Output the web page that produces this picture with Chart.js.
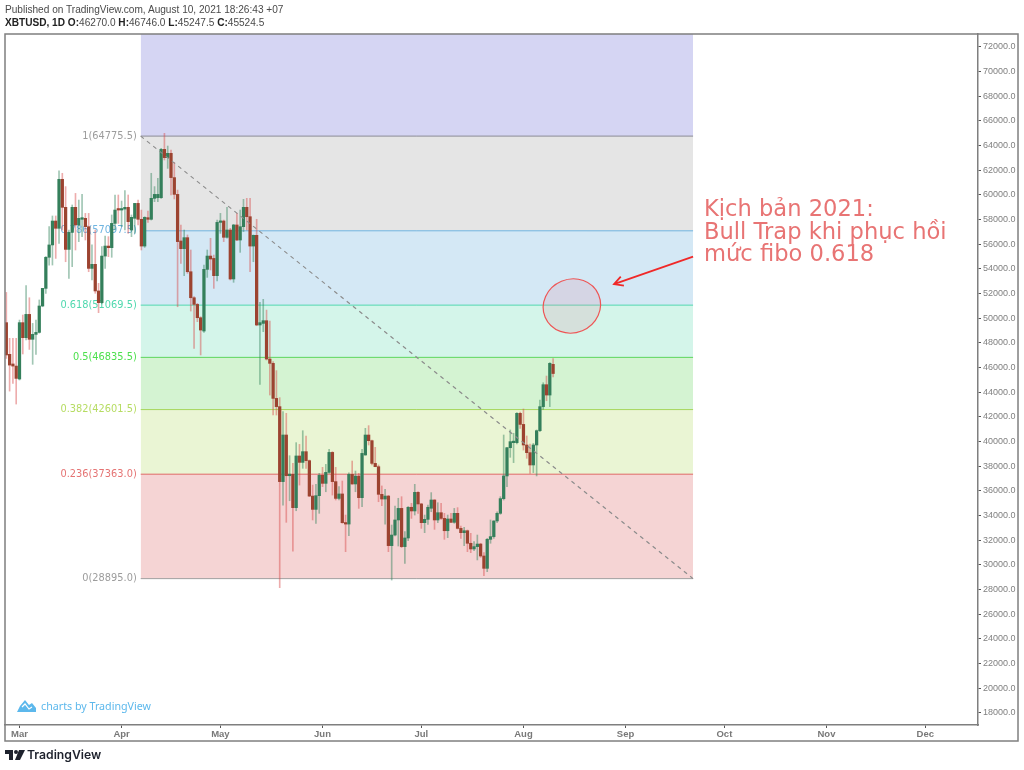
<!DOCTYPE html>
<html>
<head>
<meta charset="utf-8">
<script src="https://cdn.jsdelivr.net/npm/chart.js@4/dist/chart.umd.min.js"></script>
<style>
html, body { margin:0; padding:0; background:#fff; width:1024px; height:770px; overflow:hidden; }
#chart { position:absolute; left:0; top:0; }
.abs { position:absolute; white-space:nowrap; }
.head { font-family:"Liberation Sans"; font-size:10.1px; color:#4a4a4a; left:5px; }
.head b { color:#222; }
#note { left:704px; top:197px; font-family:"DejaVu Sans"; font-size:22.6px; line-height:22.6px; color:#e87474; }
#charts-by { left:41px; top:699px; font-family:"Noto Sans"; font-size:10.7px; color:#5cb8ec; }
#tv-logo { left:27px; top:747px; font-family:Inter; font-weight:600; font-size:12.2px; color:#1e222d; }
</style>
</head>
<body>
<canvas id="chart" width="1024" height="770"></canvas>
<div class="abs head" style="top:4px">Published on TradingView.com, August 10, 2021 18:26:43 +07</div>
<div class="abs head" style="top:17px"><b>XBTUSD, 1D</b> <b>O:</b>46270.0 <b>H:</b>46746.0 <b>L:</b>45247.5 <b>C:</b>45524.5</div>
<div class="abs" id="note">Kịch bản 2021:<br>Bull Trap khi phục hồi<br>mức fibo 0.618</div>
<svg class="abs" style="left:17px;top:700px" width="19" height="12" viewBox="0 0 19 12"><path d="M0 12 L3 6 L8 0 L12 5 L15 3 L19 8 L19 12 Z" fill="#5cb8ec"/><path d="M5 7 L8 4 L12 9 L15 7" stroke="#fff" stroke-width="1.2" fill="none"/></svg>
<div class="abs" id="charts-by">charts by TradingView</div>
<svg class="abs" style="left:5px;top:750px" width="20" height="11" viewBox="0 0 20 11"><path d="M0 0 H8 V10 H4 V4 H0 Z" fill="#1e222d"/><circle cx="11" cy="2" r="2" fill="#1e222d"/><path d="M14 0 H20 L15 10 H10 Z" fill="#1e222d"/></svg>
<div class="abs" id="tv-logo">TradingView</div>
<script>
// candles, one a day, first one is 4 days before Mar 1
const firstDay = -4;
const opens = [49650,47080,46300,46130,45080,49650,48430,50320,48300,48700,48860,51000,52430,54950,55950,57890,57300,61270,59000,55590,56970,59000,57570,58030,58110,57430,54050,54380,52220,51270,55050,55860,55730,57700,58840,58780,58860,59000,57160,58110,59320,58030,55860,58160,58030,59730,59780,59780,63700,63030,63380,61410,60050,56270,55650,56540,53780,51670,51130,50050,48970,53970,55050,54860,53460,57780,57890,56570,57160,53190,57570,56350,57430,59000,58240,55860,56730,49460,49590,49810,46700,46350,43510,42840,36760,40540,37240,37350,34650,38840,38320,39190,38460,35590,34510,35620,37270,36620,37510,39130,36760,35400,35760,33430,33320,37350,36570,37210,35460,38920,40540,40080,38240,37970,35730,35350,35590,31570,32430,33650,34590,31490,32190,34680,34380,35890,34950,33430,33700,34600,35270,33650,34240,33780,32780,33730,33460,34190,32970,32620,32780,31760,31300,31490,31700,30730,29730,32080,32300,33570,34190,35380,37220,39510,39920,39920,42300,41400,39730,39110,38110,39730,40890,42840,44620,43780,46270];
const highs = [52100,48380,48380,48380,49860,50270,52650,51670,49590,49860,51490,52430,55000,57430,58300,58300,61950,61760,60680,57160,59190,60130,59590,60050,58510,58510,55950,57160,52840,55810,56670,56620,58380,60000,60000,59510,60350,60000,58380,59320,59590,58780,58240,58700,61760,60680,61350,63780,65000,63970,63650,62650,60400,57570,57160,56760,55540,51760,51210,50130,54320,55540,56490,55130,57970,58510,57970,59000,57300,57620,58510,58780,59650,59730,59730,56760,58030,51300,51540,50670,49780,46490,45760,43570,42430,42300,38860,38240,39920,39780,40890,40460,38510,36480,36540,37430,37920,38160,39380,39190,37920,36350,36810,34050,37480,38430,37620,37430,39380,41080,41300,40130,39540,38110,36410,36140,35650,33240,34780,35410,35540,32700,34730,35000,36540,35950,35000,34050,34860,35870,35300,35050,35000,34190,34050,34190,34590,34650,33160,33050,32840,32570,31890,32430,31760,31000,32160,33650,33590,34320,35540,40540,39540,40950,40680,42350,42400,42650,40460,39810,39860,40950,43380,44780,45320,46410,46746];
const lows = [46750,44100,44730,43050,45000,47110,48240,47480,46270,47080,48800,50940,52020,54320,54320,54860,56080,57160,54590,53240,54190,55540,56220,56620,56350,53780,53110,52030,50460,51160,54050,55000,54950,57160,57700,57430,57160,56890,56620,56890,57570,55540,55750,57780,57970,59460,59460,59730,62840,62160,60000,59680,50940,54460,53460,53650,50590,47570,49730,47030,48860,53320,53920,52430,53030,56890,56220,56490,53110,52920,56300,55350,57030,57160,53780,54590,49400,44650,48920,46620,43780,42160,42160,28160,34860,33460,35210,31130,34400,36480,37840,37840,35540,33650,33380,34190,36350,35940,37430,35670,35270,35270,33380,31080,32380,36540,35940,34590,34730,38900,39730,38110,37970,35130,34810,33320,31080,28780,32350,31540,31410,30130,31970,33780,34050,34190,32970,32620,33300,34320,32890,33430,33700,32080,32220,33430,33380,32920,32160,31570,31080,31000,31160,30410,30620,29130,29460,31760,32160,33430,34110,35270,36350,38730,38300,39810,41080,39320,38650,37430,37490,37220,40810,42620,43320,42840,45247.5];
const closes = [47030,46210,46130,45130,49650,48430,50320,48300,48700,48860,51000,52430,54950,55950,57890,57300,61270,59000,55590,56970,59000,57570,58110,58160,57430,54050,54380,52220,51270,55050,55860,55730,57700,58780,58780,58860,59000,57840,58190,59320,58030,55860,58190,58030,59730,60050,60050,63700,63030,63380,61410,60050,56220,55650,56540,53780,51670,51130,50050,49050,53970,55050,54810,53460,57780,57840,56570,57160,53190,57570,56350,57430,59000,58240,55860,56730,49460,49650,49810,46700,46350,43510,42840,36760,40540,37240,37350,34650,38840,38320,39190,38460,35590,34510,35620,37270,36620,37510,39130,36760,35400,35760,33430,33320,37350,36570,37210,35460,39050,40540,40080,38240,37970,35730,35350,35590,31570,32430,33650,34590,31490,32190,34680,34380,35890,34950,33430,33700,34680,35270,33650,34240,33780,32780,33730,33460,34190,32970,32620,32780,31760,31300,31490,31700,30730,29730,32080,32300,33570,34190,35380,37220,39510,40000,40000,42300,41400,39730,39110,38110,39730,40890,42840,44620,43780,46350,45524.5];

const fibRatios = ['1','0.786','0.618','0.5','0.382','0.236','0'];
const fibPrices = [64775.5,57097.5,51069.5,46835.5,42601.5,37363,28895];
const fibLines = ['#8a8a96','#6fb4e0','#4fd8ae','#5cd65c','#a6d65c','#e06666','#a0a0a0'];
const fibText = ['#9c9c9c','#6fb4e0','#4fd8ae','#4de04d','#b6dc62','#e57373','#9c9c9c'];
const fibBands = ['#e5e5e5','#d4e8f5','#d4f5ea','#d4f3d2','#eaf5d4','#f5d4d4'];
const topBand = '#d5d5f3';
const fibStart = 36.8, fibEnd = 204.5;

const priceTicks = [18000,20000,22000,24000,26000,28000,30000,32000,34000,36000,38000,40000,42000,44000,46000,48000,50000,52000,54000,56000,58000,60000,62000,64000,66000,68000,70000,72000];
const monthLabels = ['Mar','Apr','May','Jun','Jul','Aug','Sep','Oct','Nov','Dec'];
const monthStarts = [0,31,61,92,122,153,184,214,245,275];

const upColor = '#347f5b', downColor = '#9c4330';
const upWick = 'rgba(47,128,88,0.45)', downWick = 'rgba(215,70,70,0.45)';

const days = opens.map((o, i) => i + firstDay);
const isUp = closes.map((c, i) => c >= opens[i]);

let levelSets = fibPrices.map((p, i) => ({
    type: 'line',
    data: [{x: fibStart, y: p}, {x: fibEnd, y: p}],
    borderColor: fibLines[i],
    borderWidth: 1,
    pointRadius: 0,
    backgroundColor: i === 0 ? topBand : fibBands[i - 1],
    fill: i === 0 ? {value: 90000} : {value: fibPrices[i - 1]},
    order: 3 + i
}));

// ellipse and arrow are placed in data units too
const bubble = {x: 167.7, y: 51000, rx: 29, ry: 26.8};
const arrow = {x0: 204.5, y0: 55000, x1: 180.5, y1: 52780};

const drawings = {
    id: 'drawings',
    beforeDatasetsDraw(chart) {
        let c = chart.ctx, xs = chart.scales.x, ys = chart.scales.y;
        c.save();
        c.font = '9.8px "DejaVu Sans"';
        c.textAlign = 'right';
        c.textBaseline = 'middle';
        fibPrices.forEach((p, i) => {
            c.fillStyle = fibText[i];
            c.fillText(fibRatios[i] + '(' + p.toFixed(1) + ')', xs.getPixelForValue(fibStart) - 4, ys.getPixelForValue(p));
        });
        c.restore();
    },
    afterDatasetsDraw(chart) {
        let c = chart.ctx, xs = chart.scales.x, ys = chart.scales.y;
        c.save();
        // circle
        c.beginPath();
        c.ellipse(xs.getPixelForValue(bubble.x), ys.getPixelForValue(bubble.y), bubble.rx, bubble.ry, -0.4, 0, Math.PI * 2);
        c.fillStyle = 'rgba(222,142,160,0.2)';
        c.fill();
        c.strokeStyle = '#ee5555';
        c.lineWidth = 1.2;
        c.stroke();
        // arrow
        let ax = xs.getPixelForValue(arrow.x0), ay = ys.getPixelForValue(arrow.y0);
        let bx = xs.getPixelForValue(arrow.x1), by = ys.getPixelForValue(arrow.y1);
        let ang = Math.atan2(ay - by, ax - bx);
        c.strokeStyle = '#f02828';
        c.lineWidth = 1.8;
        c.beginPath();
        c.moveTo(ax, ay);
        c.lineTo(bx, by);
        c.moveTo(bx + 10 * Math.cos(ang - 0.5), by + 10 * Math.sin(ang - 0.5));
        c.lineTo(bx, by);
        c.lineTo(bx + 10 * Math.cos(ang + 0.5), by + 10 * Math.sin(ang + 0.5));
        c.stroke();
        c.restore();
    },
    afterDraw(chart) {
        // outer frame round chart and axes
        let c = chart.ctx;
        c.save();
        c.strokeStyle = '#7f7f7f';
        c.lineWidth = 1.5;
        c.strokeRect(5, 34, 1013, 707);
        c.restore();
    }
};

new Chart(document.getElementById('chart'), {
    type: 'bar',
    data: {
        datasets: [
            {
                type: 'line',
                data: [{x: fibStart, y: fibPrices[0]}, {x: fibEnd, y: fibPrices[6]}],
                borderColor: '#8c8c8c',
                borderWidth: 1.2,
                borderDash: [4, 4],
                pointRadius: 0,
                fill: false,
                order: 0
            },
            {
                data: days.map((d, i) => ({x: d, y: [opens[i], closes[i]]})),
                backgroundColor: isUp.map(u => u ? upColor : downColor),
                barThickness: 2.6,
                minBarLength: 1.5,
                grouped: false,
                order: 1
            },
            {
                data: days.map((d, i) => ({x: d, y: [lows[i], highs[i]]})),
                backgroundColor: isUp.map(u => u ? upWick : downWick),
                barThickness: 1,
                grouped: false,
                order: 2
            },
            ...levelSets
        ]
    },
    options: {
        responsive: false,
        animation: false,
        devicePixelRatio: 1,
        layout: {padding: {left: 5, top: 34, right: 6, bottom: 29}},
        plugins: {
            legend: {display: false},
            tooltip: {enabled: false},
            filler: {drawTime: 'beforeDatasetsDraw'}
        },
        scales: {
            x: {
                type: 'linear',
                offset: false,
                min: -4.4,
                max: 291,
                afterBuildTicks: s => { s.ticks = monthStarts.map(v => ({value: v})); },
                afterFit: s => { s.height = 16; },
                grid: {offset: false, drawOnChartArea: false, tickLength: 3, tickColor: '#555', drawTicks: true},
                border: {color: '#7f7f7f', width: 1.5},
                ticks: {
                    autoSkip: false,
                    maxRotation: 0,
                    padding: 1,
                    color: '#787878',
                    font: {family: 'Liberation Sans', size: 9.5, weight: 'bold'},
                    callback: v => monthLabels[monthStarts.indexOf(v)]
                }
            },
            y: {
                position: 'right',
                min: 17027,
                max: 73054,
                afterBuildTicks: s => { s.ticks = priceTicks.map(v => ({value: v})); },
                afterFit: s => { s.width = 40; },
                grid: {drawOnChartArea: false, tickLength: 3, tickColor: '#555'},
                border: {color: '#7f7f7f', width: 1.5},
                ticks: {
                    autoSkip: false,
                    padding: 2,
                    color: '#808080',
                    font: {family: 'Liberation Sans', size: 9},
                    callback: v => v.toFixed(1)
                }
            }
        }
    },
    plugins: [drawings]
});
</script>
</body>
</html>
